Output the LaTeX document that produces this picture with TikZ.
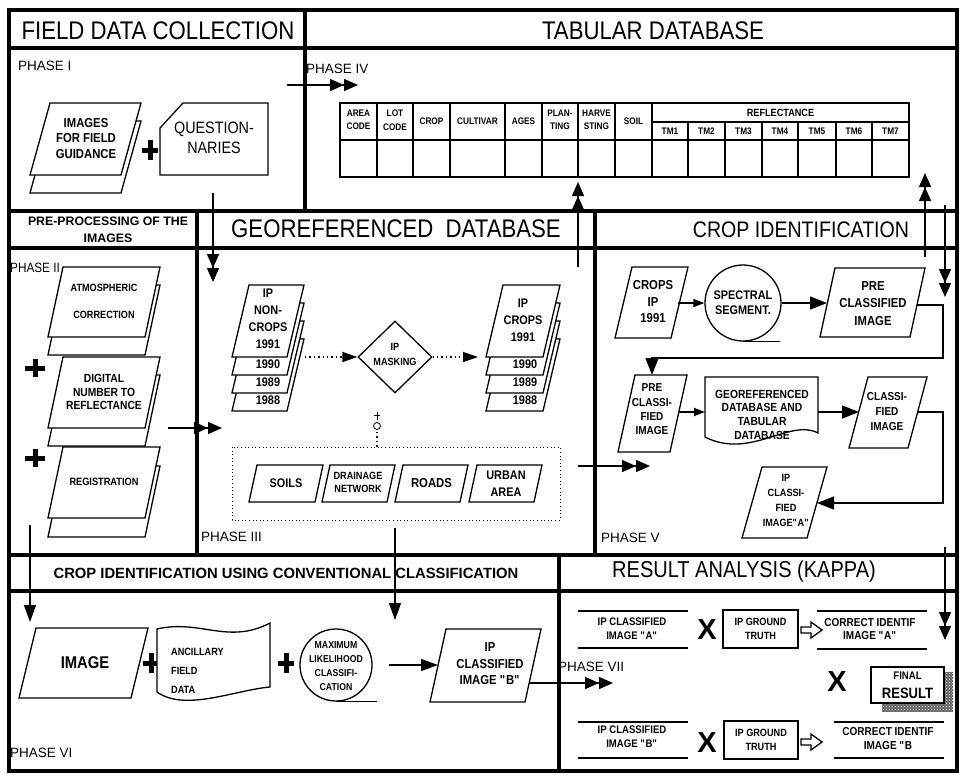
\documentclass[tikz,border=0pt]{standalone}
\usepackage{fontspec}
\setmainfont[FakeStretch=0.87]{Liberation Sans}
\newfontfamily\widefont{Liberation Sans}
\usetikzlibrary{arrows.meta,patterns,shapes.geometric}

\newcommand\fsz[2]{\fontsize{#1}{#2}\selectfont}
\newcommand\qd{\textquotedbl}

% parallelogram: name, top-left x, top y, top width, height, slant
\newcommand\pgm[6]{%
  \draw[shp] (#2,#3) -- (#2+#4,#3) -- (#2+#4-#6,#3+#5) -- (#2-#6,#3+#5) -- cycle;
  \coordinate (#1) at (#2+0.5*#4-0.5*#6,#3+0.5*#5);
}
% bold plus sign: x, y, half width, half height
\newcommand\plusmk[4]{%
  \draw[plusln] (#1-#3,#2) -- (#1+#3,#2) (#1,#2-#4) -- (#1,#2+#4);
}
% outlined block arrow: left x, centre y
\newcommand\hollowarrow[2]{%
  \draw[shp] (#1,#2-3) -- (#1+10,#2-3) -- (#1+10,#2-8) -- (#1+21,#2) --
    (#1+10,#2+8) -- (#1+10,#2+3) -- (#1,#2+3) -- cycle;
}

\tikzset{
  frm/.style={line width=3.4pt},
  shp/.style={draw, line width=1.3pt, fill=white, line join=miter},
  conn/.style={line width=1.4pt},
  tb/.style={line width=1.1pt},
  dbl/.style={conn, -{Triangle[length=14pt,width=12pt,sep=0pt]Triangle[length=14pt,width=12pt,sep=0pt]}},
  sgl/.style={conn, -{Triangle[length=17pt,width=12pt]}},
  big/.style={conn, -{Triangle[length=17pt,width=13pt]}},
  sml/.style={conn, -{Triangle[length=11pt,width=8pt]}},
  dots/.style={line width=1.3pt, dash pattern=on 1.4pt off 3pt},
  plusln/.style={line width=5pt},
  hd/.style={font=\fsz{25.5}{25.5}, inner sep=0pt},
  ph/.style={font=\widefont\fsz{13.5}{13.5}, anchor=west, inner sep=0pt},
  lb/.style={font=\bfseries\fsz{11}{15}, align=center, inner sep=0pt},
  tl/.style={font=\bfseries\fsz{9.5}{13.5}, align=center, inner sep=0pt},
}

\begin{document}
\begin{tikzpicture}[x=1pt,y=-1pt]
\useasboundingbox (0,0) rectangle (964,774);

% ---------- frame and section grid ----------
\draw[frm] (9,10) rectangle (957,771);
\draw[frm] (9,48) -- (957,48) (9,211) -- (957,211) (9,248) -- (957,248)
           (9,555) -- (957,555) (9,591) -- (957,591);
\draw[frm] (305,10) -- (305,211) (197,211) -- (197,555) (595,211) -- (595,555)
           (559,555) -- (559,771);

% ---------- section titles ----------
\node[hd] (t1) at (158,31) {FIELD DATA COLLECTION};
\node[hd] (t2) at (653,31) {TABULAR DATABASE};
\node[hd] (t3) at (396,229) {GEOREFERENCED\ \ DATABASE};
\node[hd, font=\fsz{22.5}{22.5}] (t4) at (801,230) {CROP IDENTIFICATION};
\node[font=\widefont\bfseries\fsz{12.3}{17}, align=center, inner sep=0pt] (t5) at (108,229.5) {PRE-PROCESSING OF THE\\IMAGES};
\node[font=\widefont\bfseries\fsz{14.8}{15}, inner sep=0pt] (t6) at (286,573) {CROP IDENTIFICATION USING CONVENTIONAL CLASSIFICATION};
\node[hd, font=\fsz{23}{23}] (t7) at (744,572) {RESULT ANALYSIS (KAPPA)};

% ---------- phase labels ----------
\node[ph] (ph1) at (18,65.5) {PHASE I};
\node[ph] (ph4) at (306,69) {PHASE IV};
\node[ph, font=\fsz{13.5}{13.5}] (ph2) at (10,268) {PHASE II};
\node[ph] (ph3) at (201,537) {PHASE III};
\node[ph] (ph5) at (601,538) {PHASE V};
\node[ph] (ph6) at (10,753) {PHASE VI};
\node[ph] (ph7) at (558,667) {PHASE VII};

% ---------- phase I : field data collection ----------
\pgm{fgb}{50}{121}{91}{72}{20}
\pgm{fg}{50}{103}{91}{72}{20}
\node[lb, font=\bfseries\fsz{13}{15.5}] (fgt) at (86,138.5) {IMAGES\\FOR FIELD\\GUIDANCE};
\plusmk{150}{150}{8}{10}
\draw[shp] (183,103) -- (268,103) -- (268,175) -- (160,175) -- (160,128) -- cycle;
\node[font=\fsz{16.5}{20}, align=center, inner sep=0pt] (qt) at (214,138) {QUESTION-\\NARIES};

\coordinate (p1a) at (287,85);
\coordinate (p4in) at (358,85);
\draw[dbl] (p1a) -- (p4in);
\coordinate (p1b) at (213,193);
\coordinate (p3in) at (213,282);
\draw[dbl] (p1b) -- (p3in);

% ---------- phase IV : tabular database ----------
\draw[tb] (340,103) rectangle (909,177);
\draw[tb] (340,140) -- (909,140) (652,122) -- (909,122);
\foreach \x in {377,413,450,505,542,578,615,652} \draw[tb] (\x,103) -- (\x,177);
\foreach \x in {688,725,762,798,836,872} \draw[tb] (\x,122) -- (\x,177);
\node[tl] (c1) at (358.5,120) {AREA\\CODE};
\node[tl] (c2) at (395,120) {LOT\\CODE};
\node[tl] (c3) at (431.5,121) {CROP};
\node[tl] (c4) at (477.5,121) {CULTIVAR};
\node[tl] (c5) at (523.5,121) {AGES};
\node[tl] (c6) at (560,120) {PLAN-\\TING};
\node[tl] (c7) at (596.5,120) {HARVE\\STING};
\node[tl] (c8) at (633.5,121) {SOIL};
\node[tl, font=\bfseries\fsz{10.5}{12}] (c9) at (780.5,112.5) {REFLECTANCE};
\node[tl] (tm1) at (670,131.5) {TM1};
\node[tl] (tm2) at (706.5,131.5) {TM2};
\node[tl] (tm3) at (743.5,131.5) {TM3};
\node[tl] (tm4) at (780,131.5) {TM4};
\node[tl] (tm5) at (817,131.5) {TM5};
\node[tl] (tm6) at (854,131.5) {TM6};
\node[tl] (tm7) at (890.5,131.5) {TM7};

\coordinate (p3up) at (578,267);
\coordinate (tabin) at (578,182);
\draw[dbl] (p3up) -- (tabin);
\coordinate (p5up) at (925,257);
\coordinate (tabin2) at (925,173);
\draw[dbl] (p5up) -- (tabin2);
\coordinate (tabout) at (945,205);
\coordinate (p5in) at (945,297);
\draw[dbl] (tabout) -- (p5in);

% ---------- phase II : pre-processing ----------
\pgm{atmb}{63}{285}{97}{70}{15}
\pgm{atm}{63}{267}{97}{70}{15}
\node[lb, font=\bfseries\fsz{10.5}{27}] (atmt) at (104,301.5) {ATMOSPHERIC\\CORRECTION};
\pgm{dnrb}{63}{375}{97}{71}{15}
\pgm{dnr}{63}{357}{97}{71}{15}
\node[lb, font=\bfseries\fsz{11.8}{13.5}] (dnrt) at (104,392) {DIGITAL\\NUMBER TO\\REFLECTANCE};
\pgm{regb}{63}{466}{97}{71}{15}
\pgm{reg}{63}{447}{97}{71}{15}
\node[lb, font=\bfseries\fsz{10.6}{12}] (regt) at (104,482) {REGISTRATION};
\plusmk{35}{368}{10}{9}
\plusmk{35}{458}{10}{9}

\coordinate (p2a) at (168,428);
\coordinate (p3in2) at (222,428);
\draw[dbl] (p2a) -- (p3in2);
\coordinate (p2b) at (30,525);
\coordinate (p6in) at (30,622);
\draw[sgl] (p2b) -- (p6in);

% ---------- phase III : georeferenced database ----------
\pgm{nc4}{249}{339}{55}{72}{17}
\pgm{nc3}{249}{321}{55}{72}{17}
\pgm{nc2}{249}{303}{55}{72}{17}
\pgm{nc1}{249}{285}{55}{72}{17}
\node[lb, font=\bfseries\fsz{12.5}{17}] (nct) at (268,319) {IP\\NON-\\CROPS\\1991};
\node[lb, font=\bfseries\fsz{12.5}{13}] (ny0) at (268,364) {1990};
\node[lb, font=\bfseries\fsz{12.5}{13}] (ny9) at (268,382) {1989};
\node[lb, font=\bfseries\fsz{12.5}{13}] (ny8) at (268,400) {1988};

\node[shp, diamond, minimum width=74pt, minimum height=72pt, inner sep=0pt] (mask) at (395,357) {};
\node[lb, font=\bfseries\fsz{10.5}{15}] (maskt) at (395,354.5) {IP\\MASKING};

\pgm{cr4}{503}{339}{57}{72}{17}
\pgm{cr3}{503}{321}{57}{72}{17}
\pgm{cr2}{503}{303}{57}{72}{17}
\pgm{cr1}{503}{285}{57}{72}{17}
\node[lb, font=\bfseries\fsz{12.5}{17}] (crt) at (523,320) {IP\\CROPS\\1991};
\node[lb, font=\bfseries\fsz{12.5}{13}] (cy0) at (525,364) {1990};
\node[lb, font=\bfseries\fsz{12.5}{13}] (cy9) at (525,382) {1989};
\node[lb, font=\bfseries\fsz{12.5}{13}] (cy8) at (525,400) {1988};

\coordinate (ncout) at (305,357);
\coordinate (crin) at (478,357);
\draw[dots, -{Triangle[length=15pt,width=10pt]}] (ncout) -- (mask.west);
\draw[dots, -{Triangle[length=15pt,width=10pt]}] (mask.east) -- (crin);

% small junction mark above the thematic layers
\draw[line width=0.8pt] (377,426) circle (3.5pt);
\draw[line width=0.8pt] (377,412) -- (377,420) (374,415.5) -- (380,415.5);
\coordinate (jn) at (377,432);
\coordinate (lay) at (377,447);
\draw[dots] (jn) -- (lay);

\draw[line width=1pt, dash pattern=on 1pt off 2.6pt] (232,447) rectangle (560,520);
\pgm{soil}{257}{465}{66}{37}{8}
\pgm{drain}{330}{465}{65}{37}{8}
\pgm{road}{403}{465}{65}{37}{8}
\pgm{urban}{477}{465}{65}{37}{8}
\node[lb, font=\bfseries\fsz{12.5}{13}] (soilt) at (soil) {SOILS};
\node[lb, font=\bfseries\fsz{10.5}{13}] (draint) at (358,482) {DRAINAGE\\NETWORK};
\node[lb, font=\bfseries\fsz{13}{13}] (roadt) at (road) {ROADS};
\node[lb, font=\bfseries\fsz{12.5}{17}] (urbant) at (506,483.5) {URBAN\\AREA};

\coordinate (p3out) at (578,466);
\coordinate (p5in2) at (650,466);
\draw[dbl] (p3out) -- (p5in2);
\coordinate (p3dn) at (395,528);
\coordinate (p6in2) at (395,620);
\draw[sgl] (p3dn) -- (p6in2);

% ---------- phase V : crop identification ----------
\pgm{cip}{632}{267}{56}{71}{17}
\node[lb, font=\bfseries\fsz{13}{16.5}] (cipt) at (653,302) {CROPS\\IP\\1991};
\node[shp, circle, minimum size=76pt, inner sep=0pt] (spec) at (743,303) {};
\draw[conn] (spec.south) -- ++(37,0);
\node[lb, font=\bfseries\fsz{12.5}{15}] (spect) at (743,302.5) {SPECTRAL\\SEGMENT.};
\coordinate (cipout) at (678,303);
\draw[sml] (cipout) -- (spec.west);

\pgm{pc}{835}{268}{90}{69}{15}
\node[lb, font=\bfseries\fsz{13}{17.5}] (pct) at (873,303.5) {PRE\\CLASSIFIED\\IMAGE};
\coordinate (pcin) at (827,303);
\draw[big] (spec.east) -- (pcin);

\pgm{pc2}{635}{375}{52}{77}{17}
\node[lb, font=\bfseries\fsz{11.5}{14.3}] (pc2t) at (652,409.5) {PRE\\CLASSI-\\FIED\\IMAGE};
\coordinate (pcout) at (917,305);
\coordinate (pc2in) at (652,375);
\draw[big] (pcout) -- (943,305) -- (943,358) -- (652,358) -- (pc2in);

\draw[shp] (705,377) -- (818,377) -- (818,433) .. controls (790,418) and (750,460) .. (705,437) -- cycle;
\node[lb, font=\bfseries\fsz{11.8}{13.7}] (doct) at (762,414.5) {GEOREFERENCED\\DATABASE AND\\TABULAR\\DATABASE};
\coordinate (pc2out) at (679,412);
\coordinate (docin) at (705,412);
\draw[sml] (pc2out) -- (docin);

\pgm{cl}{868}{377}{59}{71}{19}
\node[lb, font=\bfseries\fsz{11.5}{15}] (clt) at (887,412) {CLASSI-\\FIED\\IMAGE};
\coordinate (docout) at (818,412);
\coordinate (clin) at (859,412);
\draw[big] (docout) -- (clin);

\pgm{ipa}{762}{467}{65}{71}{20}
\node[lb, font=\bfseries\fsz{10.5}{15}] (ipat) at (786,500.5) {IP\\CLASSI-\\FIED\\IMAGE\qd A\qd};
\coordinate (clout) at (918,412);
\coordinate (ipain) at (817,503);
\draw[big] (clout) -- (943,412) -- (943,503) -- (ipain);

\coordinate (p5out) at (945,547);
\coordinate (p7in2) at (945,640);
\draw[dbl] (p5out) -- (p7in2);

% ---------- phase VI : conventional classification ----------
\pgm{img}{36}{628}{112}{70}{17}
\node[lb, font=\bfseries\fsz{17}{17}] (imgt) at (85,663) {IMAGE};
\plusmk{151}{663}{8}{10}
\draw[shp] (157,629) .. controls (200,619) and (228,645) .. (270,623) -- (270,687)
  .. controls (235,690) and (185,712) .. (157,692) -- cycle;
\node[lb, anchor=west, align=left, font=\bfseries\fsz{10.5}{19}] (anct) at (171,671) {ANCILLARY\\FIELD\\DATA};
\plusmk{286}{663}{8}{10}
\node[shp, circle, minimum size=72pt, inner sep=0pt] (mlc) at (336,665) {};
\draw[conn] (mlc.south) -- ++(41,0);
\node[lb, font=\bfseries\fsz{10}{14}] (mlct) at (336,666) {MAXIMUM\\LIKELIHOOD\\CLASSIFI-\\CATION};
\coordinate (mlcout) at (389,665);
\coordinate (ipbin) at (438,665);
\draw[sgl] (mlcout) -- (ipbin);
\pgm{ipb}{446}{629}{95}{73}{16}
\node[lb, font=\bfseries\fsz{13}{16.5}] (ipbt) at (490,664) {IP\\CLASSIFIED\\IMAGE \qd B\qd};
\coordinate (ipbout) at (529,683);
\coordinate (p7in) at (613,683);
\draw[dbl] (ipbout) -- (p7in);

% ---------- phase VII : result analysis ----------
\draw[conn] (578,611) -- (688,611) (578,648) -- (688,648);
\node[lb, font=\bfseries\fsz{11}{13.5}] (raa) at (632,628.5) {IP CLASSIFIED\\IMAGE \qd A\qd};
\node[font=\widefont\bfseries\fsz{29}{29}, inner sep=0pt] (xa) at (707,630) {X};
\node[shp, minimum width=75pt, minimum height=38pt] (gta) at (760.5,629) {};
\node[lb, font=\bfseries\fsz{10.5}{13.5}] (gtat) at (gta) {IP GROUND\\TRUTH};
\hollowarrow{801}{630}
\draw[conn] (817,611) -- (927,611) (817,649) -- (927,649);
\node[lb, font=\bfseries\fsz{11.5}{13.5}] (cia) at (870,629) {CORRECT IDENTIF\\IMAGE \qd A\qd};

\node[font=\widefont\bfseries\fsz{29}{29}, inner sep=0pt] (xm) at (837,682) {X};
\fill[black!62] (882,672) rectangle (953,712);
\fill[pattern=crosshatch dots, pattern color=white] (882,672) rectangle (953,712);
\node[shp, minimum width=73pt, minimum height=36pt, inner sep=0pt] (fin) at (907.5,685) {};
\node[lb, font=\bfseries\fsz{11}{11}] (fint) at (907.5,675.5) {FINAL};
\node[lb, font=\bfseries\fsz{15}{15}] (resn) at (907.5,693) {RESULT};

\draw[conn] (578,722) -- (688,722) (578,758) -- (688,758);
\node[lb, font=\bfseries\fsz{11}{14}] (rab) at (632,737) {IP CLASSIFIED\\IMAGE \qd B\qd};
\node[font=\widefont\bfseries\fsz{29}{29}, inner sep=0pt] (xb) at (707,743) {X};
\node[shp, minimum width=74pt, minimum height=38pt] (gtb) at (761,740) {};
\node[lb, font=\bfseries\fsz{10.5}{13.5}] (gtbt) at (gtb) {IP GROUND\\TRUTH};
\hollowarrow{801}{742}
\draw[conn] (834,722) -- (944,722) (834,758) -- (944,758);
\node[lb, font=\bfseries\fsz{11.5}{13.5}] (cib) at (888,738.5) {CORRECT IDENTIF\\IMAGE \qd B};
\end{tikzpicture}
\end{document}
